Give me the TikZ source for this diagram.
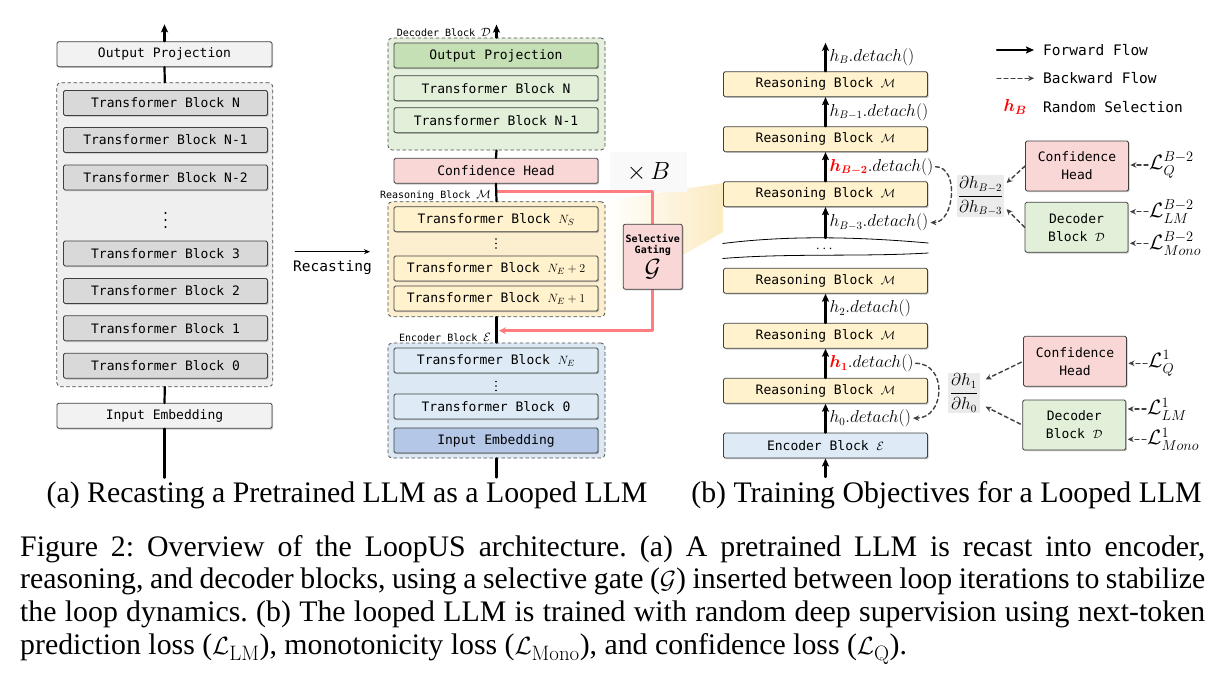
\documentclass[tikz,border=0pt]{standalone}
\usepackage{fontspec}
\usepackage{amsmath,bm}
\setmonofont{DejaVu Sans Mono}
\newfontfamily\capfont{Liberation Serif}
\usetikzlibrary{arrows.meta,shadows}
\definecolor{grayblk}{HTML}{D9D9D9}
\definecolor{graybox}{HTML}{F2F2F2}
\definecolor{graybg}{HTML}{EFEFEF}
\definecolor{greendk}{HTML}{C5E0B4}
\definecolor{greenlt}{HTML}{E2F0D9}
\definecolor{greenbg}{HTML}{E4F0DC}
\definecolor{pinkbox}{HTML}{FAD7D7}
\definecolor{yellowbox}{HTML}{FFF2CC}
\definecolor{yellowbg}{HTML}{FCEFCF}
\definecolor{bluebox}{HTML}{DEEBF7}
\definecolor{bluedk}{HTML}{B4C7E7}
\definecolor{bluebg}{HTML}{DCE8F4}
\definecolor{gatered}{HTML}{FF7C80}
\definecolor{wedge}{HTML}{FCEBC2}
\newcommand\blkfont{\fontsize{13}{15}\selectfont\ttfamily}
\newcommand\capsize{\capfont\fontsize{29.8}{32.8}\selectfont}
\newcommand\capbody{\capsize\frenchspacing\hyphenpenalty=10000\relax}
\begin{document}
\begin{tikzpicture}[x=1pt, y=-1pt, line cap=round, line join=round, >={Stealth[length=8pt, width=7pt, inset=1.5pt]},
	blk/.style={draw=black!75, line width=0.8pt, rounded corners=1.5pt, minimum width=204pt, minimum height=25pt, inner sep=0pt, font=\blkfont, drop shadow={shadow xshift=1.2pt, shadow yshift=-1.2pt, opacity=.45}},
	rbox/.style={blk, minimum width=103pt, minimum height=50pt, align=center, font=\fontsize{13}{18}\selectfont\ttfamily},
	cont/.style={draw=black!70, line width=0.8pt, dashed, rounded corners=4pt, inner sep=0pt},
	blab/.style={font=\fontsize{10}{12}\selectfont\ttfamily, inner sep=1pt, anchor=south east},
	hlab/.style={font=\fontsize{16}{18}\selectfont, inner sep=1pt, midway, right=2pt},
	leg/.style={font=\fontsize{14.5}{17}\selectfont\ttfamily, inner sep=0pt, anchor=west},
	losslab/.style={font=\fontsize{20.5}{22}\selectfont, inner sep=1pt, anchor=west},
	gradbox/.style={fill=black!8, inner sep=1pt, font=\fontsize{16}{18}\selectfont},
	thk/.style={line width=2.2pt},
	fwd/.style={line width=2.2pt, ->},
	bwd/.style={draw=black!75, line width=1.4pt, dash pattern=on 4pt off 3pt, -{Stealth[length=6pt, width=5.5pt]}},
	redline/.style={draw=gatered, line width=3pt}]
	\useasboundingbox (0,0) rectangle (1222,681);
	% zoom wedge behind the loop
	\shade[left color=white, right color=wedge] (605,201) -- (723,183) -- (723,232) -- (605,300) -- cycle;

	% (a) pretrained LLM
	\node[cont, fill=graybg, minimum width=216pt, minimum height=304pt] (base) at (164.8,234.7) {};
	\node[blk, fill=graybox, minimum width=215pt] (op) at (164.5,54.2) {Output Projection};
	\foreach \n/\y/\t in {7/103.0/N, 6/140.0/N-1, 5/177.5/N-2, 3/253.5/3, 2/291.0/2, 1/328.3/1, 0/365.8/0}
		\node[blk, fill=grayblk] (l\n) at (165.5,\y) {Transformer Block \t};
	\foreach \d in {-7,0,7}
		\fill (165.5,220+\d) circle (1.2pt);
	\node[blk, fill=graybox, minimum width=215pt] (ie) at (164.5,415.8) {Input Embedding};
	\draw[fwd] (op.north) -- ++(0,-17);
	\draw[thk] (op.south) -- (base.north);
	\draw[thk] (base.south) -- (ie.north);
	\draw[thk] (ie.south) -- ++(0,49);

	\coordinate (rc) at (295,251.7);
	\draw[line width=0.9pt, -{Stealth[length=6pt, width=5pt]}] (rc) -- ++(75,0) node[midway, below=5pt, font=\fontsize{14.5}{17}\selectfont\ttfamily] (rclab) {Recasting};

	% (a) looped LLM
	\node[cont, fill=greenbg, minimum width=217pt, minimum height=112pt] (dec) at (496.5,94) {};
	\node[blab] (declab) at (492,38) {Decoder Block {\fontsize{13}{13}\selectfont$\mathcal{D}$}};
	\node[blk, fill=greendk] (mop) at (496,55.5) {Output Projection};
	\node[blk, fill=greenlt] (mtn) at (496,88.2) {Transformer Block N};
	\node[blk, fill=greenlt] (mtn1) at (496,120.2) {Transformer Block N-1};
	\node[blk, fill=pinkbox] (ch) at (496,170.8) {Confidence Head};

	\node[cont, fill=yellowbg, minimum width=217pt, minimum height=115pt] (rea) at (496.5,259.2) {};
	\node[blab] (realab) at (492,201.7) {Reasoning Block {\fontsize{13}{13}\selectfont$\mathcal{M}$}};
	\node[blk, fill=yellowbox] (ns) at (496,219.2) {Transformer Block $N_S$};
	\foreach \d in {-4.5,0,4.5}
		\fill (496,243.5+\d) circle (0.9pt);
	\node[blk, fill=yellowbox] (ne2) at (496,268.5) {Transformer Block $N_E+2$};
	\node[blk, fill=yellowbox] (ne1) at (496,298.5) {Transformer Block $N_E+1$};

	\node[cont, fill=bluebg, minimum width=217pt, minimum height=115pt] (enc) at (496.5,400.5) {};
	\node[blab] (enclab) at (492,343) {Encoder Block {\fontsize{13}{13}\selectfont$\mathcal{E}$}};
	\node[blk, fill=bluebox] (ne) at (496,360.5) {Transformer Block $N_E$};
	\foreach \d in {-4.5,0,4.5}
		\fill (496,386+\d) circle (0.9pt);
	\node[blk, fill=bluebox] (tb0) at (496,406.5) {Transformer Block 0};
	\node[blk, fill=bluedk] (mie) at (496,440.5) {Input Embedding};

	% loop with gate
	\node[fill=black!2.5, minimum width=77pt, minimum height=40pt, inner sep=0pt, font=\fontsize{27}{27}\selectfont] (times) at (648.5,172) {$\times\,B$};
	\coordinate (rsplit) at (496.5,191.7);
	\coordinate (rjoin) at (496.5,330.7);
	\draw[redline] (rsplit) -| (652.8,240);
	\draw[redline, -{Stealth[length=7pt, width=7pt]}, shorten >=2.5pt] (652.8,260) |- (rjoin);
	\node[blk, fill=pinkbox, minimum width=59pt, minimum height=65pt, rounded corners=2pt, align=center, font=\fontsize{10}{11.5}\selectfont\ttfamily\bfseries] (gate) at (652.8,256.7) {Selective\\Gating\\[3pt]{\fontsize{27}{27}\selectfont$\mathcal{G}$}};

	\draw[fwd] (dec.north) -- ++(0,-13);
	\draw[thk] (dec.south) -- (ch.north);
	\draw[thk] (ch.south) -- (rea.north);
	\draw[thk] (rea.south) -- (enc.north);
	\draw[thk] (enc.south) -- ++(0,19);

	% (b) unrolled loop
	\foreach \n/\y in {1/84.2, 2/139.2, 3/194.2, 4/280.8, 5/335.8, 6/390.8}
		\node[blk, fill=yellowbox] (r\n) at (825.5,\y) {Reasoning Block $\mathcal{M}$};
	\node[blk, fill=bluebox] (renc) at (825.5,445.5) {Encoder Block $\mathcal{E}$};
	\coordinate (wv) at (825.5,238);
	\coordinate (rin) at (825.5,477);
	\draw[fwd] (r1.north) -- ++(0,-28.5) node[hlab] (lb0) {$h_B.detach()$};
	\draw[fwd] (r2.north) -- (r1.south) node[hlab] (lb1) {$h_{B-1}.detach()$};
	\draw[fwd] (r3.north) -- (r2.south) node[hlab] (lb2) {${\color{red}\bm{h_{B-2}}}.detach()$};
	\draw[fwd] (wv) -- (r3.south) node[hlab] (lb3) {$h_{B-3}.detach()$};
	\draw[fwd] (r5.north) -- (r4.south) node[hlab] (lh2) {$h_2.detach()$};
	\draw[fwd] (r6.north) -- (r5.south) node[hlab] (lh1) {${\color{red}\bm{h_1}}.detach()$};
	\draw[fwd] (renc.north) -- (r6.south) node[hlab] (lh0) {$h_0.detach()$};
	\draw[fwd] (rin) -- (renc.south);
	\draw[line width=0.8pt] (722.7,243.5) .. controls (790,235) and (860,237) .. (928.3,243);
	\draw[line width=0.8pt] (722.7,258.5) .. controls (790,253) and (860,257) .. (928.3,253);
	\node[font=\fontsize{15}{15}\selectfont] (rdots) at (825.5,249) {$\cdots$};
	\draw[bwd] (lb2.east) to[out=0, in=0, looseness=1.1] (lb3.east);
	\draw[bwd] (lh1.east) to[out=0, in=0, looseness=1.5] (lh0.east);

	% gradients and losses
	\node[gradbox, minimum width=45pt, minimum height=42pt] (g1) at (980.5,196) {$\dfrac{\partial h_{B-2}}{\partial h_{B-3}}$};
	\node[gradbox, minimum width=32pt, minimum height=40pt] (g2) at (964,393) {$\dfrac{\partial h_1}{\partial h_0}$};
	\node[rbox, fill=pinkbox] (ch1) at (1077,166) {Confidence\\Head};
	\node[rbox, fill=greenlt] (db1) at (1076.5,227.3) {Decoder\\Block $\mathcal{D}$};
	\node[rbox, fill=pinkbox] (ch2) at (1075,361.3) {Confidence\\Head};
	\node[rbox, fill=greenlt] (db2) at (1074.2,425) {Decoder\\Block $\mathcal{D}$};
	\draw[bwd, shorten >=3pt] (ch1.west) -- ([yshift=11pt]g1.east);
	\draw[bwd, shorten >=3pt] (db1.west) -- ([yshift=-11pt]g1.east);
	\draw[bwd, shorten <=2pt, shorten >=6pt] (ch2.west) -- ([yshift=11pt]g2.east);
	\draw[bwd, shorten <=2pt, shorten >=6pt] (db2.west) -- ([yshift=-11pt]g2.east);

	\node[losslab] (lq1) at (1148,165) {$\mathcal{L}_Q^{B-2}$};
	\node[losslab] (llm1) at (1148,211.7) {$\mathcal{L}_{LM}^{B-2}$};
	\node[losslab] (lmo1) at (1148,243.3) {$\mathcal{L}_{Mono}^{B-2}$};
	\node[losslab] (lq2) at (1147,363.3) {$\mathcal{L}_Q^{1}$};
	\node[losslab] (llm2) at (1146,409) {$\mathcal{L}_{LM}^{1}$};
	\node[losslab] (lmo2) at (1146,439.3) {$\mathcal{L}_{Mono}^{1}$};
	\draw[bwd, shorten >=1.5pt] (lq1.west) -- (lq1.west -| ch1.east);
	\draw[bwd, shorten >=1.5pt] (llm1.west) -- (llm1.west -| db1.east);
	\draw[bwd, shorten >=1.5pt] (lmo1.west) -- (lmo1.west -| db1.east);
	\draw[bwd, shorten >=1.5pt] (lq2.west) -- (lq2.west -| ch2.east);
	\draw[bwd, shorten >=1.5pt] (llm2.west) -- (llm2.west -| db2.east);
	\draw[bwd, shorten >=1.5pt] (lmo2.west) -- (lmo2.west -| db2.east);

	% legend
	\coordinate (lg1) at (997,50);
	\coordinate (lg2) at (997,78.3);
	\node[leg] (lf) at (1043,50) {Forward Flow};
	\node[leg] (lbk) at (1043,78.3) {Backward Flow};
	\node[leg] (lsel) at (1043,106.7) {Random Selection};
	\node[font=\fontsize{17}{17}\selectfont, text=red] (lred) at (1015,107) {$\bm{h_B}$};
	\draw[fwd] (lg1) -- ([xshift=-9pt]lf.west);
	\draw[bwd, line width=1.1pt] (lg2) -- ([xshift=-9pt]lbk.west);

	% captions
	\node[font=\capsize, anchor=base, inner sep=0pt] (suba) at (347,502) {(a) Recasting a Pretrained LLM as a Looped LLM};
	\node[font=\capsize, anchor=base, inner sep=0pt] (subb) at (946.5,502) {(b) Training Objectives for a Looped LLM};
	\node[font=\capbody, anchor=north west, text width=1185pt, align=justify, inner sep=0pt] (cap) at (20,535) {Figure 2: Overview of the LoopUS architecture. (a) A pretrained LLM is recast into encoder, reasoning, and decoder blocks, using a selective gate ($\mathcal{G}$) inserted between loop iterations to stabilize the loop dynamics. (b) The looped LLM is trained with random deep supervision using next-token prediction loss ($\mathcal{L}_{\mathrm{LM}}$), monotonicity loss ($\mathcal{L}_{\mathrm{Mono}}$), and confidence loss ($\mathcal{L}_{\mathrm{Q}}$).};
\end{tikzpicture}
\end{document}
